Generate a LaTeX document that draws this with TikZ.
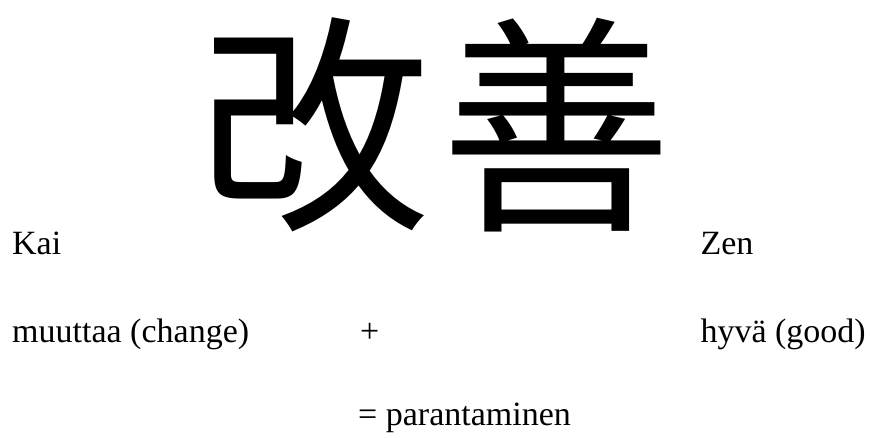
\documentclass[tikz,border=0pt]{standalone}
\usepackage{fontspec}
\setmainfont{Liberation Serif}
\newfontfamily\cjk{Noto Sans CJK JP}
\begin{document}
\begin{tikzpicture}[
  x=1pt, y=-1pt,
  glyph/.style={inner sep=0pt, font=\cjk\fontsize{232}{232}\selectfont},
  word/.style={inner sep=0pt, anchor=base west, font=\fontsize{34}{34}\selectfont}
]
  \useasboundingbox (0,0) rectangle (870,437);

  \node[glyph] (kaichar) at (314,125) {改};
  \node[glyph] (zenchar) at (556,125) {善};

  \node[word] (kai)    at (12,254)  {Kai};
  \node[word] (change) at (12,342)  {muuttaa (change)};
  \node[word] (plus)   at (360,342) {+};
  \node[word, anchor=base east] (good) at (866,342) {hyvä (good)};
  \node[word] (zen)    at ([yshift=88pt]good.base west) {Zen};
  \node[word] (result) at (358,425) {= parantaminen};
\end{tikzpicture}
\end{document}
